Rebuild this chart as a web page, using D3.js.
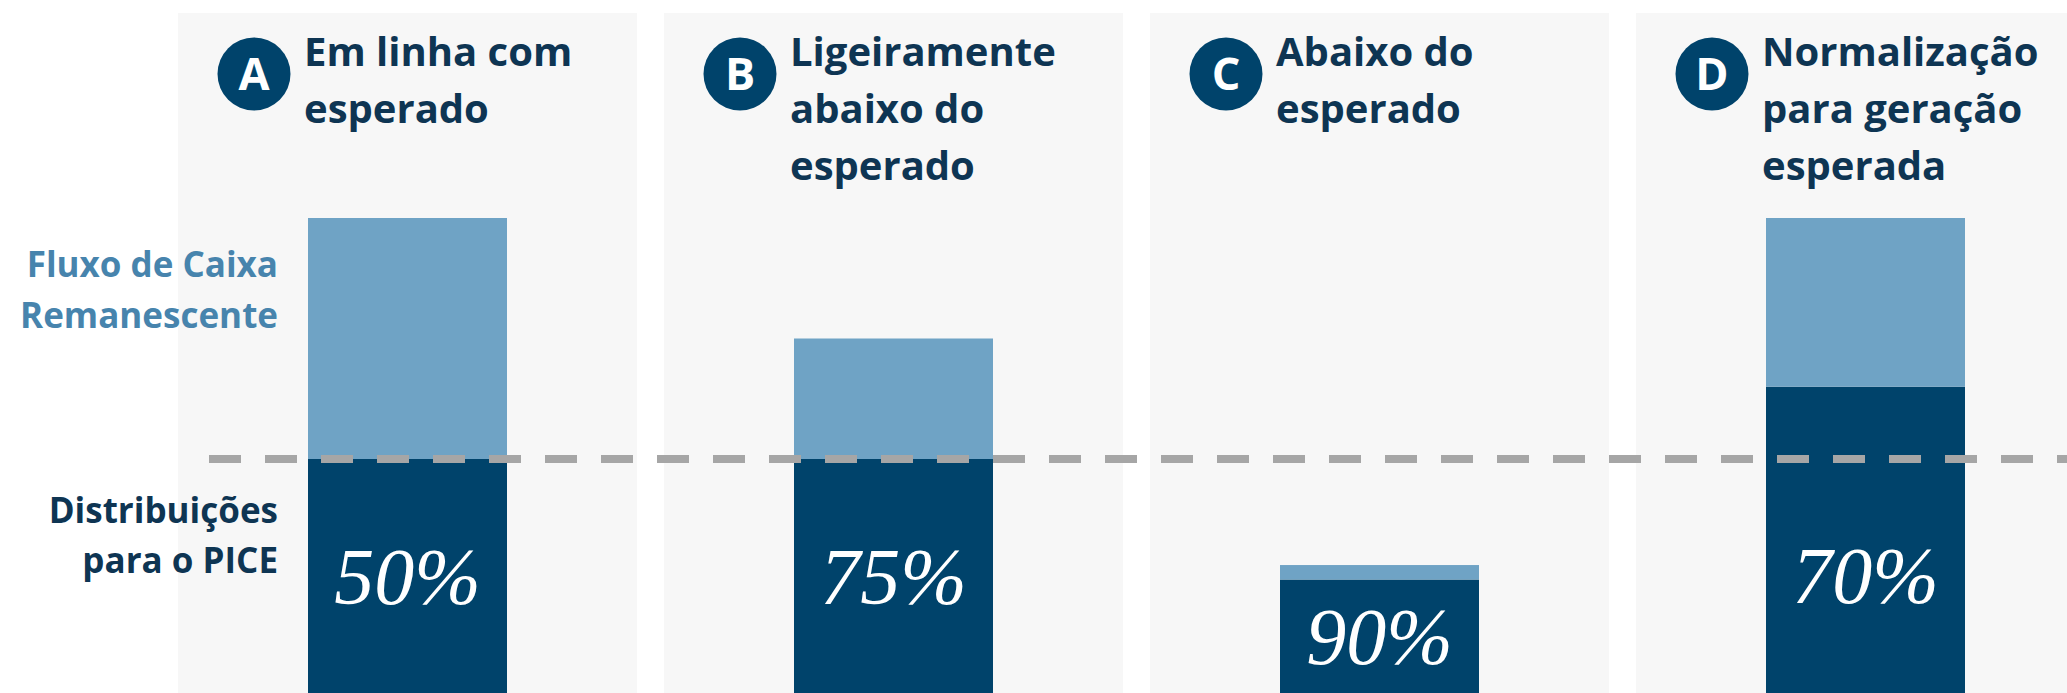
<!DOCTYPE html>
<meta charset="utf-8">
<style>
    body { margin: 0; background: #fff; }
    svg { display: block; }
    .titulo text { font-family: "Open Sans", sans-serif; font-weight: 700; fill: #0e3553; }
    .legenda text { font-family: "Open Sans", sans-serif; font-weight: 700; }
    .pct { font-family: "Liberation Serif", serif; font-style: italic; fill: #fff; }
</style>
<svg width="2067" height="693"></svg>
<script src="https://d3js.org/d3.v7.min.js"></script>
<script>

    // cenarios
    var letras = ["A", "B", "C", "D"];
    var titulos = [
        ["Em linha com", "esperado"],
        ["Ligeiramente", "abaixo do", "esperado"],
        ["Abaixo do", "esperado"],
        ["Normalização", "para geração", "esperada"]
    ];
    // valores (indice, 100 = fluxo esperado)
    var distribuicoes = [50, 50, 25, 65];
    var remanescente = [50, 25, 3, 35];
    var rotulosPct = ["50%", "75%", "90%", "70%"];
    var distEsperada = 50;

    var legendaRem = ["Fluxo de Caixa", "Remanescente"];
    var legendaDist = ["Distribuições", "para o PICE"];

    var escuro = "#00436b",
        claro = "#6fa3c5",
        fundo = "#f7f7f7";

    var svg = d3.select("svg"),
        width = +svg.attr("width"),
        height = +svg.attr("height");

    var x = d3.scaleBand()
        .domain(letras)
        .range([178, 2095])
        .paddingInner(27 / 486)
        .paddingOuter(0);

    var y = d3.scaleLinear()
        .domain([0, 100])
        .range([700, 218]);

    var linhas = letras.map(function (k, i) {
        return { key: k, dist: distribuicoes[i], rem: remanescente[i] };
    });
    var series = d3.stack().keys(["dist", "rem"])(linhas);

    var barW = 199,
        barOff = (x.bandwidth() - barW) / 2;

    // fundos dos paineis
    svg.append("g").selectAll("rect")
        .data(letras)
        .enter().append("rect")
        .attr("x", function (d) { return x(d); })
        .attr("y", 13)
        .attr("width", x.bandwidth())
        .attr("height", height - 13)
        .attr("fill", fundo);

    // barras empilhadas
    svg.append("g").selectAll("g")
        .data(series)
        .enter().append("g")
        .attr("fill", function (d) { return d.key == "dist" ? escuro : claro; })
        .selectAll("rect")
        .data(function (d) { return d; })
        .enter().append("rect")
        .attr("x", function (d) { return x(d.data.key) + barOff; })
        .attr("y", function (d) { return y(d[1]); })
        .attr("width", barW)
        .attr("height", function (d) { return y(d[0]) - y(d[1]); });

    // linha de referencia
    svg.append("line")
        .attr("x1", 209)
        .attr("x2", width)
        .attr("y1", y(distEsperada))
        .attr("y2", y(distEsperada))
        .attr("stroke", "#a6a6a6")
        .attr("stroke-width", 8)
        .attr("stroke-dasharray", "32,24");

    // percentuais
    svg.append("g").selectAll("text")
        .data(linhas)
        .enter().append("text")
        .attr("class", "pct")
        .attr("x", function (d) { return x(d.key) + x.bandwidth() / 2; })
        .attr("y", function (d) {
            var meio = (y(d.dist) + height) / 2;
            return Math.max(575, meio) + 28;
        })
        .attr("text-anchor", "middle")
        .attr("font-size", 80)
        .text(function (d, i) { return rotulosPct[i]; });

    // cabecalhos
    var cab = svg.append("g").attr("class", "titulo").selectAll("g")
        .data(letras)
        .enter().append("g")
        .attr("transform", function (d) { return "translate(" + x(d) + ",0)"; });

    cab.append("circle")
        .attr("cx", 76)
        .attr("cy", 74)
        .attr("r", 36.5)
        .attr("fill", escuro);

    cab.append("text")
        .attr("x", 76)
        .attr("y", 90)
        .attr("text-anchor", "middle")
        .attr("font-size", 45)
        .style("fill", "#fff")
        .text(function (d) { return d; });

    cab.append("text")
        .attr("font-size", 40)
        .selectAll("tspan")
        .data(function (d, i) { return titulos[i]; })
        .enter().append("tspan")
        .attr("x", 126)
        .attr("y", function (d, j) { return 66 + j * 57; })
        .text(function (d) { return d; });

    // legenda a esquerda
    var leg = svg.append("g").attr("class", "legenda");

    leg.append("text")
        .attr("text-anchor", "end")
        .attr("font-size", 35)
        .attr("fill", "#4784ad")
        .selectAll("tspan")
        .data(legendaRem)
        .enter().append("tspan")
        .attr("x", 278)
        .attr("y", function (d, j) { return 277 + j * 51; })
        .text(function (d) { return d; });

    leg.append("text")
        .attr("text-anchor", "end")
        .attr("font-size", 35)
        .attr("fill", "#0e3553")
        .selectAll("tspan")
        .data(legendaDist)
        .enter().append("tspan")
        .attr("x", 278)
        .attr("y", function (d, j) { return 523 + j * 50; })
        .text(function (d) { return d; });

</script>
